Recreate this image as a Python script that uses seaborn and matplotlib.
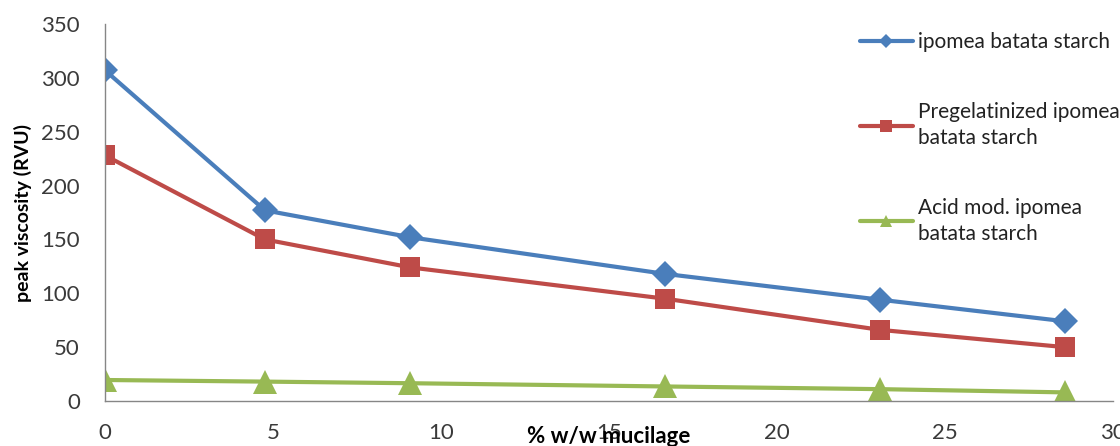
import matplotlib
matplotlib.use("Agg")
import matplotlib.pyplot as plt
import seaborn as sns
import pandas as pd

mucilage = [0, 4.76, 9.09, 16.67, 23.08, 28.57]
native = [307, 177, 152, 118, 94, 74]
pregel = [228, 150, 124, 95, 66, 50]
acid = [19.5, 18, 16.5, 13.5, 11, 8]
series_names = ["ipomea batata starch",
                "Pregelatinized ipomea\nbatata starch",
                "Acid mod. ipomea\nbatata starch"]
x_ticks = [0, 5, 10, 15, 20, 25, 30]
y_ticks = [0, 50, 100, 150, 200, 250, 300, 350]

rows = []
for name, vals in zip(series_names, [native, pregel, acid]):
    for x, v in zip(mucilage, vals):
        rows.append({"x": x, "y": v, "series": name})
df = pd.DataFrame(rows)

sns.set_theme(style="white")
plt.rcParams['font.family'] = ['Lato', 'DejaVu Sans']

fig = plt.figure(figsize=(11.2, 4.46), dpi=100)
ax = fig.add_axes([105/1120, 1-401/446, (1113-105)/1120, (401-24)/446])

palette = {series_names[0]: "#4A7EBB", series_names[1]: "#BE4B48", series_names[2]: "#98B954"}
markers = {series_names[0]: "D", series_names[1]: "s", series_names[2]: "^"}
sns.lineplot(data=df, x="x", y="y", hue="series", style="series",
             palette=palette, markers=markers, dashes=False, linewidth=3.0,
             markersize=15, markeredgewidth=0, ax=ax, legend=True)

for line in ax.get_lines():
    if line.get_marker() == "D":
        line.set_markersize(13)
    elif line.get_marker() == "^":
        line.set_markersize(17)

ax.set_xlim(0, 30)
ax.set_ylim(0, 350)
ax.set_xticks(x_ticks)
ax.set_yticks(y_ticks)
ax.tick_params(axis="both", length=0, labelsize=16, colors="#3a3a3a")
ax.tick_params(axis="y", pad=18)
ax.tick_params(axis="x", pad=16)
for sp in ["top", "right"]:
    ax.spines[sp].set_visible(False)
for sp in ["left", "bottom"]:
    ax.spines[sp].set_color("#868686")
    ax.spines[sp].set_linewidth(1.0)

ax.set_ylabel("peak viscosity (RVU)", fontsize=14, fontweight="bold", color="black")
ax.yaxis.set_label_coords(-0.072, 0.5)
ax.set_xlabel("% w/w mucilage", fontsize=16, fontweight="bold", color="black",
              va="center")
ax.xaxis.set_label_coords(0.5, -0.093)

handles, labels = ax.get_legend_handles_labels()
leg = ax.legend(handles, labels, loc="upper left", bbox_to_anchor=(0.7405, 1.0),
                frameon=False, fontsize=15, labelspacing=2.4, handlelength=2.55,
                handletextpad=0.25, markerscale=0.55, borderaxespad=0.0)
for t in leg.get_texts():
    t.set_color("#222222")
    t.set_linespacing(1.35)

fig.savefig("out.png", dpi=100)
